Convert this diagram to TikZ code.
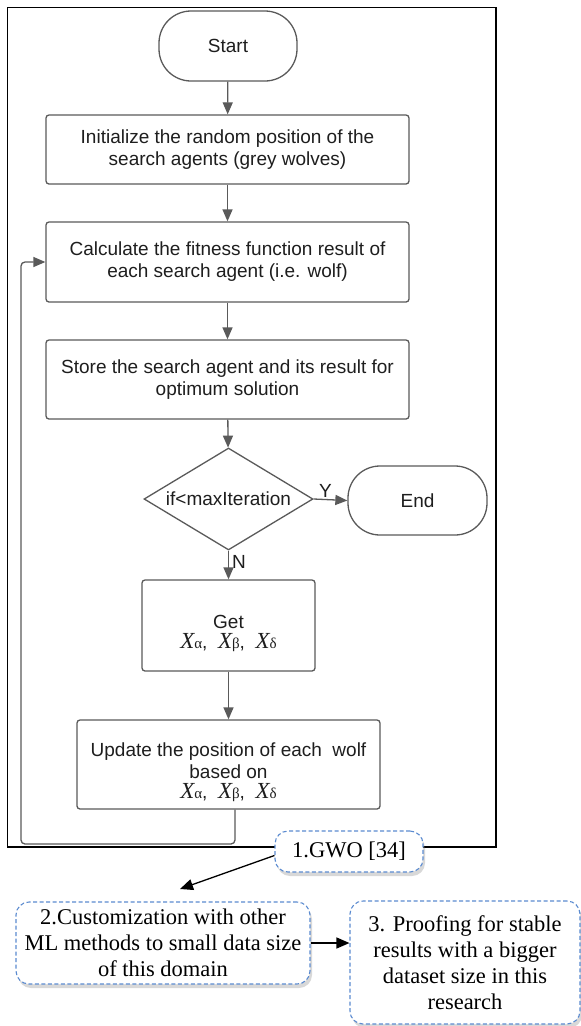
\documentclass[tikz,border=0pt]{standalone}
\usepackage{fontspec}
\setmainfont{Liberation Sans}
\newfontfamily\tnr{Liberation Serif}
\usetikzlibrary{arrows.meta,shapes.geometric,shadows}
\definecolor{flowgrey}{HTML}{5A5A5A}
\definecolor{txtgrey}{HTML}{1E1E1E}
\definecolor{dashblue}{HTML}{5B8BD0}
\newcommand{\Xs}[1]{{\tnr\itshape\fontsize{23}{23}\selectfont X}{\tnr\fontsize{15}{15}\selectfont #1}}
\begin{document}
\begin{tikzpicture}[x=1pt,y=-1pt,
  flowbox/.style={draw=flowgrey, line width=1.3pt, rounded corners=3pt, fill=white,
    minimum width=363pt, inner sep=0pt, align=center, text=txtgrey,
    font=\fontsize{19}{22}\selectfont},
  term/.style={draw=flowgrey, line width=1.3pt, rounded corners=32pt, fill=white,
    minimum width=138pt, minimum height=70pt, inner sep=0pt, text=txtgrey,
    font=\fontsize{19}{22}\selectfont},
  decbox/.style={draw=flowgrey, line width=1.3pt, diamond, aspect=1.66, inner sep=0pt,
    minimum width=169pt, minimum height=102pt, text=txtgrey,
    font=\fontsize{19}{22}\selectfont},
  plain/.style={inner sep=0pt, align=center, text=txtgrey, font=\fontsize{19}{22}\selectfont},
  flow/.style={draw=flowgrey, line width=1.3pt, -{Triangle[length=12pt,width=10pt]}},
  note/.style={draw=dashblue, dash pattern=on 4pt off 2.5pt, line width=1.1pt,
    rounded corners=13pt, fill=white,
    drop shadow={shadow xshift=2pt, shadow yshift=-4pt, opacity=0.3},
    inner sep=0pt, align=center, font=\tnr\fontsize{22.5}{26}\selectfont},
  blk/.style={draw=black, line width=1.3pt, -{Triangle[length=13pt,width=11pt]}}
]
\useasboundingbox (0,0) rectangle (581,1026);
\fill[white] (0,0) rectangle (581,1026);

% outer frame
\draw[black, line width=1.2pt] (7.5,7.5) rectangle (496,847);

% flowchart nodes
\node[term] (start) at (228,46) {Start};
\node[flowbox, minimum height=69pt] (init) at (227.5,149.5)
  {Initialize the random position of the\\ search agents (grey wolves)};
\node[flowbox, minimum height=80pt] (calc) at (227.5,262)
  {Calculate the fitness function result of\\ each search agent (i.e. wolf)};
\node[flowbox, minimum height=79pt] (store) at (227.5,379.5)
  {Store the search agent and its result for\\ optimum solution};
\node[decbox] (dec) at (228.5,499) {if<maxIteration};
\node[term, minimum width=139pt, minimum height=69pt] (end) at (417.5,500.5) {End};
\node[flowbox, minimum width=173pt, minimum height=91pt] (get) at (228.5,625.5) {};
\node[plain] (gettxt) at (228.5,633) {Get\\[-2pt] \Xs{α},\ \ \Xs{β},\ \ \Xs{δ}};
\node[flowbox, minimum width=303pt, minimum height=89pt] (upd) at (228.5,764.5) {};
\node[plain] (updtxt) at (228.5,772) {Update the position of each\ \ wolf\\ based on\\[-2pt]
  \Xs{α},\ \ \Xs{β},\ \ \Xs{δ}};

% flowchart connectors
\draw[flow] (start) -- (init);
\draw[flow] (init) -- (calc);
\draw[flow] (calc) -- (store);
\draw[flow] (store) -- (dec);
\draw[flow] (dec.east) -- node[above, pos=0.35, inner sep=1pt, text=txtgrey,
  font=\fontsize{19}{22}\selectfont] {Y} (end.west);
\draw[flow] (dec.south) -- node[right, pos=0.4, inner sep=3pt, text=txtgrey,
  font=\fontsize{19}{22}\selectfont] {N} (get.north);
\draw[flow] (get) -- (upd);
\coordinate (loopcorner) at (21,844);
\draw[flow, rounded corners=4pt] ([xshift=6.5pt]upd.south) |- (loopcorner) |- (calc.west);

% notes
\node[note, minimum width=148pt, minimum height=41pt] (gwo) at (349,851.5) {1.GWO [34]};
\node[note, minimum width=294pt, minimum height=82pt] (b2) at (163,943)
  {2.Customization with other\\ ML methods to small data size\\ of this domain};
\node[note, minimum width=230pt, minimum height=123pt] (b3) at (465,962.5)
  {3. Proofing for stable\\ results with a bigger\\ dataset size in this\\ research};

\coordinate (b2top) at (180,889);
\draw[blk] ([yshift=-4pt]gwo.west) -- (b2top);
\draw[blk] (b2.east) -- (b2.east -| b3.west);
\end{tikzpicture}
\end{document}
